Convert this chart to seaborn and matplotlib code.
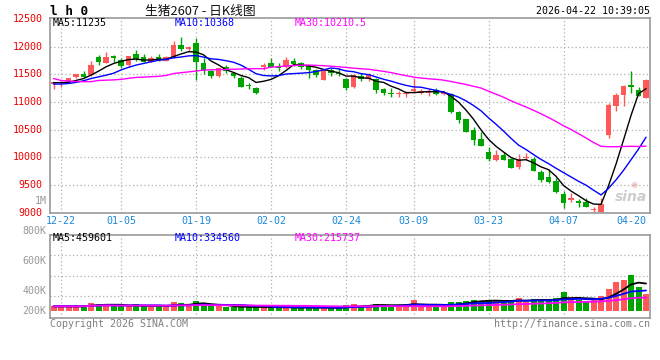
import numpy as np
import pandas as pd
import matplotlib
matplotlib.use("Agg")
import matplotlib.pyplot as plt
import seaborn as sns

# ─── Datos ───────────────────────────────────────────────────────────────────
HOLIDAYS = ["2026-01-01", "2026-01-02", "2026-02-16", "2026-02-17", "2026-02-18",
            "2026-02-19", "2026-02-20", "2026-02-23", "2026-04-06"]

OPEN = [11320, 11340, 11360, 11450, 11500, 11480, 11820, 11705, 11840, 11760,
        11670, 11870, 11810, 11730, 11810, 11750, 11810, 12030, 11950, 12065,
        11705, 11565, 11470, 11640, 11520, 11430, 11310, 11250, 11640, 11710,
        11630, 11630, 11740, 11710, 11650, 11570, 11400, 11570, 11530, 11415,
        11280, 11470, 11420, 11410, 11230, 11170, 11140, 11145, 11200, 11170,
        11160, 11215, 11140, 11140, 10825, 10690, 10495, 10325, 10100, 9955,
        10040, 9965, 9830, 9990, 9970, 9740, 9650, 9575, 9340, 9220,
        9215, 9200, 9040, 9020, 10405, 10930, 11130, 11300, 11220, 11080]
HIGH = [11370, 11380, 11440, 11510, 11560, 11740, 11855, 11900, 11856, 11795,
        11840, 11940, 11870, 11830, 11860, 11830, 12100, 12175, 12020, 12160,
        11790, 11580, 11620, 11670, 11550, 11470, 11350, 11280, 11710, 11790,
        11700, 11820, 11790, 11730, 11670, 11590, 11590, 11610, 11610, 11430,
        11500, 11520, 11520, 11440, 11250, 11245, 11200, 11205, 11440, 11230,
        11230, 11250, 11205, 11160, 10830, 10700, 10550, 10460, 10180, 10130,
        10100, 9985, 10060, 10075, 10010, 9770, 9785, 9620, 9390, 9350,
        9240, 9260, 9110, 9260, 10975, 11170, 11310, 11560, 11280, 11410]
LOW = [11230, 11280, 11340, 11440, 11450, 11470, 11670, 11700, 11718, 11620,
       11640, 11740, 11720, 11720, 11735, 11735, 11800, 11920, 11925, 11400,
       11510, 11430, 11460, 11530, 11430, 11265, 11240, 11145, 11580, 11635,
       11565, 11610, 11650, 11590, 11430, 11460, 11390, 11470, 11470, 11220,
       11260, 11385, 11385, 11160, 11120, 11097, 11085, 11085, 11170, 11145,
       11110, 11135, 11125, 10795, 10620, 10450, 10225, 10200, 9940, 9940,
       9945, 9810, 9785, 9950, 9755, 9560, 9540, 9350, 9080, 9200,
       9095, 9100, 8990, 9000, 10355, 10845, 10930, 11170, 11100, 11065]
CLOSE = [11360, 11370, 11430, 11500, 11460, 11675, 11725, 11820, 11800, 11660,
         11830, 11775, 11730, 11795, 11745, 11810, 12030, 11965, 12000, 11715,
         11560, 11470, 11610, 11565, 11470, 11280, 11285, 11170, 11670, 11640,
         11610, 11760, 11690, 11640, 11570, 11480, 11570, 11530, 11505, 11260,
         11480, 11410, 11505, 11225, 11155, 11140, 11160, 11170, 11230, 11200,
         11185, 11140, 11175, 10815, 10675, 10465, 10315, 10210, 9965, 10040,
         9955, 9815, 9965, 10010, 9760, 9590, 9560, 9365, 9180, 9260,
         9170, 9110, 9060, 9150, 10945, 11125, 11290, 11280, 11110, 11400]
VOLUME_K = [70, 70, 70, 70, 70, 125, 109, 109, 70, 70,
            70, 109, 70, 70, 70, 70, 142, 125, 70, 159,
            109, 70, 70, 59, 59, 59, 59, 59, 59, 47,
            47, 59, 47, 47, 47, 47, 59, 36, 36, 92,
            109, 75, 75, 109, 92, 92, 75, 92, 176, 75,
            75, 75, 75, 142, 142, 159, 176, 159, 176, 159,
            131, 176, 209, 148, 192, 159, 176, 204, 310, 192,
            176, 142, 176, 243, 354, 477, 510, 594, 399, 276]

# medias móviles antes de completar la ventana (vienen de sesiones anteriores)
MA5_HEAD = [11350, 11350, 11357, 11390]
MA10_HEAD = [11325, 11325, 11335, 11355, 11385, 11425, 11455, 11485, 11520]
MA30_HEAD = [11425, 11390, 11380, 11370, 11368, 11368, 11390, 11395, 11400, 11410,
             11428, 11445, 11450, 11458, 11465, 11480, 11515, 11530, 11545, 11560,
             11578, 11582, 11585, 11590, 11593, 11597, 11600, 11603, 11603]

TICK_DATES = ["12-22", "01-05", "01-19", "02-02", "02-24", "03-09", "03-23", "04-07", "04-20"]
PRICE_TICKS = [9000, 9500, 10000, 10500, 11000, 11500, 12000, 12500]
VOL_TICK_LABELS = ["800K", "600K", "400K", "200K"]

MA_PRICE_TXT = ["MA5:11235", "MA10:10368", "MA30:10210.5"]
MA_VOL_TXT = ["MA5:459601", "MA10:334560", "MA30:215737"]

# ─── Estilo ──────────────────────────────────────────────────────────────────
sns.set_theme(style="white")
plt.rcParams["font.family"] = ["DejaVu Sans Mono"]
UP, DOWN = "#ff5858", "#00a400"
MA_COLORS = ["#000000", "#0000ff", "#ff00ff"]
FRAME = "#999999"
GRID = "#b0b0b0"
FS = 7.2
W, H = 660, 360


def fx(x):
    return x / W


def fy(y):
    return 1 - y / H


dates = [d for d in pd.bdate_range("2025-12-19", "2026-04-22")
         if d.strftime("%Y-%m-%d") not in HOLIDAYS]
df = pd.DataFrame({"open": OPEN, "high": HIGH, "low": LOW, "close": CLOSE,
                   "vol": np.array(VOLUME_K) * 1000},
                  index=pd.DatetimeIndex(dates))
df["x"] = np.arange(len(df))
df["label"] = df.index.strftime("%m-%d")
df["color"] = np.where(df["close"] >= df["open"], UP, DOWN)


def media(serie, n, head):
    r = serie.rolling(n).mean()
    if head is not None:
        r.iloc[:len(head)] = head
    return r


df["ma5"] = media(df["close"], 5, MA5_HEAD)
df["ma10"] = media(df["close"], 10, MA10_HEAD)
df["ma30"] = media(df["close"], 30, MA30_HEAD)
df["vma5"] = df["vol"].rolling(5, min_periods=1).mean()
df["vma10"] = df["vol"].rolling(10, min_periods=1).mean()
df["vma30"] = df["vol"].rolling(30, min_periods=1).mean()

tick_x = [int(df.loc[df["label"] == t, "x"].iloc[0]) for t in TICK_DATES]

fig = plt.figure(figsize=(W / 100, H / 100), dpi=100)
fig.patch.set_facecolor("white")
ax = fig.add_axes([fx(50), fy(213), 600 / W, 195 / H])
axv = fig.add_axes([fx(50), fy(318), 600 / W, 83 / H])

for a in (ax, axv):
    a.set_facecolor("white")
    a.set_xlim(-0.47, len(df) - 0.47)
    for s in a.spines.values():
        s.set_color(FRAME)
        s.set_linewidth(1.2)
    a.set_xticks([])
    a.set_yticks([])
    for t in tick_x[:-1]:
        a.axvline(t, color=GRID, lw=0.9, ls=(0, (1, 2)), zorder=0)

# ─── Panel de precios ────────────────────────────────────────────────────────
ax.set_ylim(8994, 12519)
for p in PRICE_TICKS[1:-1]:
    ax.axhline(p, color=GRID, lw=0.9, ls=(0, (1, 2)), zorder=0)

ax.vlines(df["x"], df["low"], df["high"], colors=df["color"], lw=1.0, zorder=2)
body = np.maximum((df["close"] - df["open"]).abs(), 14)
ax.bar(df["x"], body, bottom=np.minimum(df["open"], df["close"]),
       width=0.76, color=df["color"], linewidth=0, zorder=3)

for col, c in zip(["ma5", "ma10", "ma30"], MA_COLORS):
    sns.lineplot(x="x", y=col, data=df, ax=ax, color=c, lw=1.0, legend=False, zorder=4)
ax.set_xlabel("")
ax.set_ylabel("")

for p in PRICE_TICKS:
    ax.text(-0.012, p, str(p), transform=ax.get_yaxis_transform(), ha="right",
            va="center", color="#ee0000", fontsize=FS)

for t, lab in zip(tick_x, TICK_DATES):
    ax.text(t, -8 / 195, lab, transform=ax.get_xaxis_transform(), ha="center",
            va="center", color="#1a88d8", fontsize=FS)

for xpos, txt, c in zip([53, 175, 295], MA_PRICE_TXT, MA_COLORS):
    fig.text(fx(xpos), fy(23.5), txt, ha="left", va="center", color=c, fontsize=FS)

# ─── Panel de volumen ────────────────────────────────────────────────────────
axv.set_ylim(-125000, 1263000)
for v in [243000, 582000, 928000]:
    axv.axhline(v, color=GRID, lw=0.9, ls=(0, (1, 2)), zorder=0)
axv.bar(df["x"], df["vol"], width=0.8, color=df["color"], linewidth=0, zorder=2)
for col, c in zip(["vma5", "vma10", "vma30"], MA_COLORS):
    sns.lineplot(x="x", y=col, data=df, ax=axv, color=c, lw=1.3, legend=False, zorder=3)
axv.set_xlabel("")
axv.set_ylabel("")

for xpos, txt, c in zip([53, 175, 295], MA_VOL_TXT, MA_COLORS):
    fig.text(fx(xpos), fy(238), txt, ha="left", va="center", color=c, fontsize=FS)

for ypos, lab in zip([231, 260.7, 290.7, 310.7], VOL_TICK_LABELS):
    fig.text(fx(46.5), fy(ypos), lab, ha="right", va="center", color="#999999", fontsize=FS)
fig.text(fx(46.5), fy(200.7), "1M", ha="right", va="center", color="#999999", fontsize=FS)

# ─── Textos de cabecera y pie ────────────────────────────────────────────────
fig.text(fx(50), fy(11.5), "l h 0", ha="left", va="center", fontsize=9.2,
         fontweight="bold", color="black")
fig.text(fx(200), fy(11.5), "生猪2607 - 日K线图", ha="center", va="center",
         fontsize=9.2, color="#111111", family=["Noto Sans CJK SC", "DejaVu Sans"])
fig.text(fx(650), fy(11.5), "2026-04-22 10:39:05", ha="right", va="center",
         fontsize=FS, color="black")
fig.text(fx(50), fy(324), "Copyright 2026 SINA.COM", ha="left", va="center",
         fontsize=FS, color="#808080")
fig.text(fx(650), fy(324), "http://finance.sina.com.cn", ha="right", va="center",
         fontsize=FS, color="#808080")
fig.text(fx(647), fy(197), "sina", ha="right", va="center", fontsize=10,
         fontweight="bold", style="italic", color="#c8c8c8",
         family=["DejaVu Sans"], alpha=0.9)
fig.text(fx(634), fy(184), "◉", ha="center", va="center", fontsize=6,
         color="#f0b8b8", family=["DejaVu Sans"])

fig.savefig("out.png", dpi=100)
plt.close(fig)
